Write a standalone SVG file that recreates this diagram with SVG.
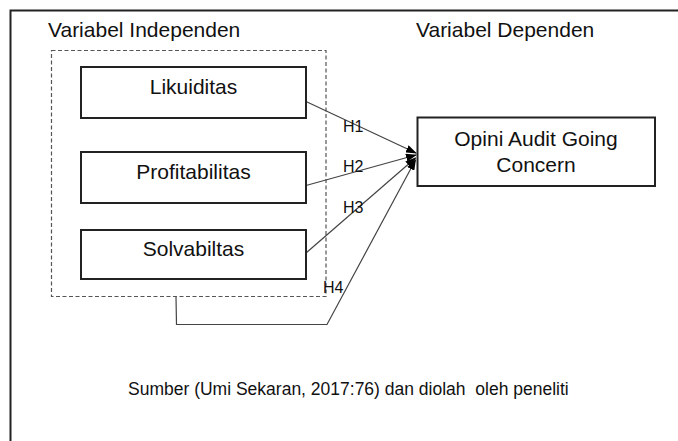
<svg xmlns="http://www.w3.org/2000/svg" width="678" height="441" viewBox="0 0 678 441">
<style>
text{font-family:"Liberation Sans",Arial,sans-serif;fill:#111}
.box{fill:#fff;stroke:#222;stroke-width:2}
.lbl{font-size:21px;text-anchor:middle}
.h{font-size:16px}
.con{fill:none;stroke:#444;stroke-width:1.2}
</style>
<defs>
<marker id="ah" markerWidth="11" markerHeight="8" refX="10" refY="4" orient="auto" markerUnits="userSpaceOnUse">
<path d="M0,0 L11,4 L0,8 Z" fill="#000"/>
</marker>
</defs>
<rect x="0" y="0" width="678" height="441" fill="#fff"/>
<rect id="frame" x="10.5" y="10.5" width="700" height="500" fill="none" stroke="#222" stroke-width="2"/>
<text x="48" y="37" style="font-size:21px">Variabel Independen</text>
<text x="416" y="37" style="font-size:21px">Variabel Dependen</text>
<rect id="group-independen" x="51.5" y="50.5" width="274.5" height="246" fill="none" stroke="#555" stroke-width="1.2" stroke-dasharray="4 2.5"/>
<g id="connectors">
<line class="con" x1="306" y1="101.5" x2="416" y2="153" marker-end="url(#ah)"/>
<line class="con" x1="306" y1="185.5" x2="416" y2="155" marker-end="url(#ah)"/>
<line class="con" x1="306" y1="253" x2="415.5" y2="158" marker-end="url(#ah)"/>
<polyline class="con" points="176,297 176.5,324.5 327,324.5 415.5,160" marker-end="url(#ah)"/>
<text class="h" x="343" y="132">H1</text>
<text class="h" x="343" y="172">H2</text>
<text class="h" x="343" y="213">H3</text>
<text class="h" x="323" y="293">H4</text>
</g>
<g id="likuiditas">
<rect class="box" x="81" y="67" width="225" height="51"/>
<text class="lbl" x="193.5" y="93.5">Likuiditas</text>
</g>
<g id="profitabilitas">
<rect class="box" x="81" y="152" width="225" height="51"/>
<text class="lbl" x="193.5" y="178.5">Profitabilitas</text>
</g>
<g id="solvabiltas">
<rect class="box" x="81" y="230" width="225" height="49"/>
<text class="lbl" x="193.5" y="256">Solvabiltas</text>
</g>
<g id="opini">
<rect class="box" x="417.5" y="117.5" width="237.5" height="68.5"/>
<text class="lbl" x="536" y="146">Opini Audit Going</text>
<text class="lbl" x="536" y="171.5">Concern</text>
</g>
<text x="128" y="395" style="font-size:17.5px" xml:space="preserve">Sumber (Umi Sekaran, 2017:76) dan diolah  oleh peneliti</text>
</svg>
